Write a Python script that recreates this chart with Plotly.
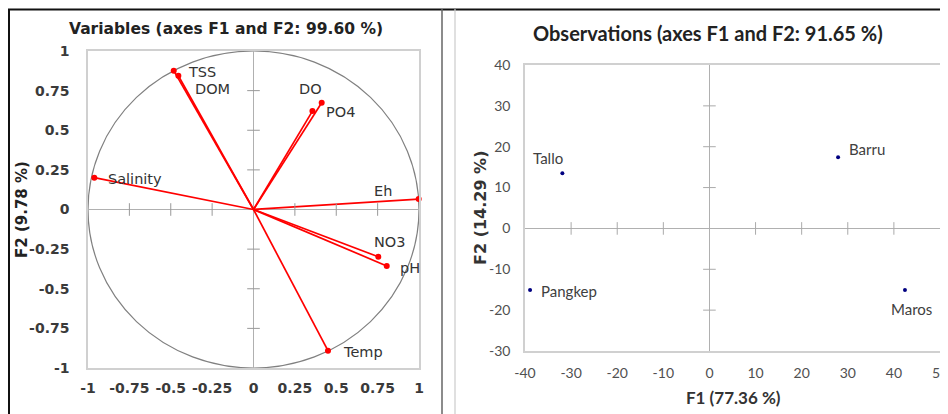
import plotly.graph_objects as go

# page body has an 8px margin: the figure is drawn 8px in from the window corner
OFF = 8
W, H = 948 - OFF, 414 - OFF

# ---- Data: Variables (correlation circle) ----
var_names = ["TSS", "DOM", "DO", "PO4", "Salinity", "Eh", "NO3", "pH", "Temp"]
var_f1 = [-0.482, -0.454, 0.412, 0.356, -0.962, 0.998, 0.754, 0.805, 0.450]
var_f2 = [0.876, 0.844, 0.674, 0.621, 0.201, 0.066, -0.298, -0.356, -0.891]

# ---- Data: Observations ----
obs_names = ["Tallo", "Barru", "Pangkep", "Maros"]
obs_f1 = [-31.9, 27.9, -38.9, 42.4]
obs_f2 = [13.5, 17.4, -15.1, -15.1]

left_ticks = [-1, -0.75, -0.5, -0.25, 0, 0.25, 0.5, 0.75, 1]
left_ticktext = ["-1", "-0.75", "-0.5", "-0.25", "0", "0.25", "0.5", "0.75", "1"]
right_xticks = [-40, -30, -20, -10, 0, 10, 20, 30, 40, 50]
right_xticktext = ["-40", "-30", "-20", "-10", "0", "10", "20", "30", "40", "50"]
right_yticks = [-30, -20, -10, 0, 10, 20, 30, 40]
right_yticktext = ["-30", "-20", "-10", "0", "10", "20", "30", "40"]

# label offsets in pixels (dx right, dy down) -- styling only
var_label_shift = {"TSS": (28, 1), "DOM": (34, 13), "DO": (-11, -14), "PO4": (28, 1),
                   "Salinity": (41, 1), "Eh": (-36, -8), "NO3": (12, -15), "pH": (23, 2),
                   "Temp": (35, 1)}
obs_label_shift = {"Tallo": (-14, -15), "Barru": (29, -8), "Pangkep": (39, 1), "Maros": (7, 19)}

LFONT = "DejaVu Sans"
RFONT = "Lato"
RED = "#ff0000"

def px_x(p):
    return (p - OFF) / W

def px_y(p):
    return 1 - (p - OFF) / H

fig = go.Figure()

# vectors
for n, x, y in zip(var_names, var_f1, var_f2):
    fig.add_trace(go.Scatter(x=[0, x], y=[0, y], mode="lines",
                             line=dict(color=RED, width=1.7),
                             xaxis="x", yaxis="y", showlegend=False, hoverinfo="skip",
                             cliponaxis=False))
fig.add_trace(go.Scatter(x=var_f1, y=var_f2, mode="markers", text=var_names,
                         marker=dict(color=RED, size=6),
                         xaxis="x", yaxis="y", showlegend=False, cliponaxis=False))

# tick marks on zero lines (left)
inner = [t for t in left_ticks if t not in (-1, 0, 1)]
fig.add_trace(go.Scatter(x=inner, y=[0] * len(inner), mode="markers",
                         marker=dict(symbol="line-ns-open", size=9, color="#999", line=dict(width=1, color="#999")),
                         xaxis="x", yaxis="y", showlegend=False, hoverinfo="skip"))
fig.add_trace(go.Scatter(x=[0] * len(inner), y=inner, mode="markers",
                         marker=dict(symbol="line-ew-open", size=9, color="#999", line=dict(width=1, color="#999")),
                         xaxis="x", yaxis="y", showlegend=False, hoverinfo="skip"))

# observations
fig.add_trace(go.Scatter(x=obs_f1, y=obs_f2, mode="markers", text=obs_names,
                         marker=dict(color="#000080", size=4),
                         xaxis="x2", yaxis="y2", showlegend=False, cliponaxis=False))
rx_inner = [t for t in right_xticks if t not in (-40, 0, 50)]
ry_inner = [t for t in right_yticks if t not in (-30, 0, 40)]
fig.add_trace(go.Scatter(x=rx_inner, y=[0] * len(rx_inner), mode="markers",
                         marker=dict(symbol="line-ns-open", size=9, color="#aaa", line=dict(width=1, color="#aaa")),
                         xaxis="x2", yaxis="y2", showlegend=False, hoverinfo="skip"))
fig.add_trace(go.Scatter(x=[0] * len(ry_inner), y=ry_inner, mode="markers",
                         marker=dict(symbol="line-ew-open", size=9, color="#aaa", line=dict(width=1, color="#aaa")),
                         xaxis="x2", yaxis="y2", showlegend=False, hoverinfo="skip"))

axis_common = dict(showgrid=False, zeroline=True, zerolinecolor="#b0b0b0", zerolinewidth=1.2,
                   showline=True, mirror=True, linecolor="#d0d0d0", linewidth=1.5, ticks="",
                   automargin=False, fixedrange=True, ticklabeloverflow="allow")

ann = dict(xref="paper", yref="paper", showarrow=False, xanchor="center", yanchor="middle")

annotations = [
    dict(text="Variables (axes F1 and F2: 99.60 %)", x=px_x(226), y=px_y(29),
         font=dict(family=LFONT, size=15.5, color="#222", weight="bold"), **ann),
    dict(text="F2 (9.78 %)", x=px_x(22), y=px_y(210), textangle=-90,
         font=dict(family=LFONT, size=15, color="#222", weight="bold"), **ann),
    dict(text="Observations (axes F1 and F2: 91.65 %)", x=px_x(708), y=px_y(33),
         font=dict(family=RFONT, size=20, color="#222", weight="bold"), **ann),
    dict(text="F1 (77.36 %)", x=px_x(733), y=px_y(397),
         font=dict(family=RFONT, size=17, color="#333", weight="bold"), **ann),
    dict(text="F2 (14.29 %)", x=px_x(480), y=px_y(208), textangle=-90,
         font=dict(family=LFONT, size=16, color="#333", weight="bold"), **ann),
]
for n, x, y in zip(var_names, var_f1, var_f2):
    dx, dy = var_label_shift[n]
    annotations.append(dict(text=n, x=x, y=y, xref="x", yref="y", showarrow=False,
                            xanchor="center", yanchor="middle", xshift=dx, yshift=-dy,
                            font=dict(family=LFONT, size=14.5, color="#333")))
for n, x, y in zip(obs_names, obs_f1, obs_f2):
    dx, dy = obs_label_shift[n]
    annotations.append(dict(text=n, x=x, y=y, xref="x2", yref="y2", showarrow=False,
                            xanchor="center", yanchor="middle", xshift=dx, yshift=-dy,
                            font=dict(family=RFONT, size=15, color="#404040")))

fig.update_layout(
    width=W, height=H, margin=dict(l=0, r=0, t=0, b=0, pad=0, autoexpand=False),
    paper_bgcolor="white", plot_bgcolor="white",
    xaxis=dict(domain=[px_x(88), px_x(419)], range=[-1, 1], tickvals=left_ticks, ticktext=left_ticktext,
               tickfont=dict(family=LFONT, size=14, color="#3a3a3a", weight="bold"),
               ticklabelstandoff=6, anchor="y", **axis_common),
    yaxis=dict(domain=[px_y(368), px_y(51)], range=[-1, 1], tickvals=left_ticks, ticktext=left_ticktext,
               tickfont=dict(family=LFONT, size=14, color="#3a3a3a", weight="bold"),
               ticklabelstandoff=14, anchor="x", **axis_common),
    xaxis2=dict(domain=[px_x(525), px_x(940)], range=[-40, 50], tickvals=right_xticks,
                ticktext=right_xticktext,
                tickfont=dict(family=RFONT, size=14, color="#505050"),
                ticklabelstandoff=8, anchor="y2", **axis_common),
    yaxis2=dict(domain=[px_y(351), px_y(65)], range=[-30, 40], tickvals=right_yticks,
                ticktext=right_yticktext,
                tickfont=dict(family=RFONT, size=14, color="#505050"),
                ticklabelstandoff=10, anchor="x2", **axis_common),
    shapes=[
        dict(type="circle", xref="x", yref="y", x0=-1, y0=-1, x1=1, y1=1,
             line=dict(color="#808080", width=1.2), layer="below"),
        dict(type="line", xref="paper", yref="paper", x0=0, x1=1, y0=px_y(9.5), y1=px_y(9.5),
             line=dict(color="#111", width=2)),
        dict(type="line", xref="paper", yref="paper", x0=px_x(9), x1=px_x(9), y0=px_y(9), y1=0,
             line=dict(color="#111", width=2)),
        dict(type="line", xref="paper", yref="paper", x0=px_x(442), x1=px_x(442), y0=px_y(9), y1=0,
             line=dict(color="#666", width=1.5)),
        dict(type="line", xref="paper", yref="paper", x0=px_x(455), x1=px_x(455), y0=px_y(9), y1=0,
             line=dict(color="#ccc", width=1.2)),
    ],
    annotations=annotations,
)

fig.write_html("out.html", config={"displayModeBar": False})
